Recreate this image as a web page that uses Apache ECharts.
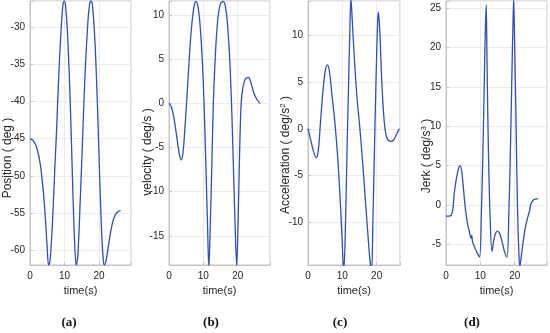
<!DOCTYPE html>
<html><head><meta charset="utf-8">
<script src="https://cdn.jsdelivr.net/npm/echarts@6/dist/echarts.min.js"></script>
<style>html,body{margin:0;padding:0;background:#fff}#c{width:550px;height:333px}</style>
</head><body><div id="c"></div>
<script>
// (a) Position (deg)
const positionTime = [0,1,2,3,4,4.5,5,5.4,5.8,6.5,7.2,7.7,8.3,9,9.5,9.9,10.4,11,11.7,12.3,12.9,13.4,13.9,14.6,15.3,16,16.8,17.3,17.7,18.2,18.9,19.6,20.2,20.8,21.3,21.6,22.1,22.8,23.6,24.4,25.3,26.3];
const positionValues = [-45,-45.3,-46.3,-48.5,-52.8,-56,-59.8,-62,-61.5,-56.5,-49,-44,-37,-30.5,-27.3,-26.5,-27.5,-32,-40.5,-50,-58.5,-62,-60.5,-53,-44.5,-36,-29.3,-26.9,-26.5,-27.4,-32.5,-41,-50,-57.8,-61.5,-62,-61.3,-59.3,-57,-55.6,-54.9,-54.7];
// (b) velocity (deg/s)
const velocityTime = [0,0.7,1.5,2.3,3,3.6,4.1,4.6,5.1,5.6,6.1,6.7,7.3,7.8,8.5,9.1,9.7,10.2,10.7,11.2,11.6,12,12.5,12.9,13.5,14.2,15,15.8,16.5,17.1,17.7,18.2,18.7,19.2,19.7,20.1,20.5,21,21.6,22.3,23.1,23.8,24.6,25.5,26.5];
const velocityValues = [0,-0.4,-1.8,-3.9,-5.7,-6.4,-5.5,-3,0,3.2,6.3,9.2,11,11.55,10.8,8.6,4.8,0,-6.5,-13.5,-18.6,-14,-6.5,0,5.5,9.5,11.3,11.55,10.8,8.6,4.8,0,-6.5,-13.2,-18.4,-13.5,-6.5,0,2,2.8,2.95,2.4,1.3,0.5,0];
// (c) Acceleration (deg/s^2)
const accelTime = [0,0.8,1.6,2.4,3,3.6,4.3,5,5.6,6.2,7,7.8,8.6,9.3,9.9,10.4,10.8,11.3,11.8,12.2,12.5,12.9,13.5,14.3,15,15.8,16.7,17.5,18,18.5,18.9,19.4,19.9,20.3,20.5,20.9,21.5,22.2,22.9,23.7,24.4,25.1,25.9,26.6];
const accelValues = [0,-1.2,-2.4,-3.1,-2.3,0.5,3.8,6.1,6.8,6.2,3.5,0.8,-2.8,-7,-11.5,-15.2,-12,-3.5,4.5,10.5,13.9,11.5,7.5,3.2,0.5,-3,-7.5,-11.5,-13.8,-15.2,-10,-1.5,6.5,11.5,12.4,10.5,5,0.8,-0.9,-1.3,-1.35,-1.1,-0.5,0];
// (d) Jerk (deg/s^3)
const jerkTime = [0,0.8,1.5,2,2.4,3,3.6,4.1,4.6,5.1,5.6,6.2,6.8,7.3,7.5,7.7,8.3,9,9.75,10.3,10.8,11.2,11.5,11.7,11.95,12.3,12.8,13.4,13.9,14.5,15.1,15.7,16.4,17.1,17.75,18.3,18.8,19.2,19.5,19.7,20,20.4,20.8,21.2,21.5,21.9,22.5,23.2,24,24.4,24.6,25,25.6,26.3,26.8];
const jerkValues = [-1.4,-1.4,-1.3,-0.5,1.5,3.3,4.6,5,4.2,2,-0.3,-2.2,-3.4,-4.2,-3.8,-4.6,-5.3,-6,-6.6,-1,8,17,23,25.4,18,8,-1,-5.9,-4.5,-3.5,-3.3,-3.7,-4.8,-6,-6.6,-1,8,17,23,26.2,20,10,0,-6,-7.8,-6.5,-4.5,-2.6,-1.2,-0.6,0,0.4,0.7,0.8,0.8];

const yNames = ['Position ( deg )','velocity ( deg/s )','Acceleration ( deg/s{sup|2} )','Jerk ( deg/s{sup|3} )'];
const captions = ['(a)','(b)','(c)','(d)'];
const xTitle = 'time(s)';

const panels = [
  {t: positionTime, v: positionValues, left: 30, width: 101, xMax: 29.3, yMin: -62, yMax: -26.5, nameX: 8, nameY: 158, capX: 69},
  {t: velocityTime, v: velocityValues, left: 169, width: 101, xMax: 29.4, yMin: -18.3, yMax: 11.6, nameX: 148, nameY: 152, capX: 211},
  {t: accelTime, v: accelValues, left: 308, width: 92, xMax: 26.8, yMin: -14.5, yMax: 13.6, nameX: 286, nameY: 155, capX: 340},
  {t: jerkTime, v: jerkValues, left: 446, width: 101, xMax: 29.4, yMin: -7.6, yMax: 25.9, nameX: 427, nameY: 156, capX: 472}
];

const txt = '#262626', frame = '#c4c4c4', gridc = '#ececec';
const option = {
  animation: false,
  backgroundColor: '#fff',
  grid: [], xAxis: [], yAxis: [], series: [], graphic: []
};
panels.forEach((p, i) => {
  option.grid.push({left: p.left, top: 1, width: p.width, height: 264, show: true, borderColor: frame, borderWidth: 1, backgroundColor: 'transparent'});
  option.xAxis.push({
    type: 'value', gridIndex: i, min: 0, max: p.xMax, splitNumber: 3,
    name: xTitle, nameLocation: 'middle', nameGap: 18,
    nameTextStyle: {color: txt, fontSize: 11, fontFamily: 'Liberation Sans'},
    axisLine: {onZero: false, lineStyle: {color: frame}},
    axisTick: {inside: true, length: 3, lineStyle: {color: frame}},
    axisLabel: {color: txt, fontSize: 10, fontFamily: 'Liberation Sans', margin: 6,
      formatter: v => (Math.abs(v % 10) < 1e-9 ? String(v) : '')},
    splitLine: {show: true, lineStyle: {color: gridc, width: 1}}
  });
  option.yAxis.push({
    type: 'value', gridIndex: i, min: p.yMin, max: p.yMax, splitNumber: 7,
    axisLine: {show: true, lineStyle: {color: frame}},
    axisTick: {inside: true, length: 3, lineStyle: {color: frame}},
    axisLabel: {color: txt, fontSize: 10, fontFamily: 'Liberation Sans', margin: 5,
      formatter: v => (Math.abs(v % 5) < 1e-9 ? String(v) : '')},
    splitLine: {show: true, lineStyle: {color: gridc, width: 1}}
  });
  option.series.push({
    type: 'line', xAxisIndex: i, yAxisIndex: i, showSymbol: false, smooth: 0.35,
    clip: true,
    lineStyle: {color: '#3050b4', width: 1.3},
    data: p.t.map((t, k) => [t, p.v[k]])
  });
  option.graphic.push({
    type: 'text', x: p.nameX, y: p.nameY, rotation: Math.PI / 2,
    style: {text: yNames[i], fill: txt, font: '12px "Liberation Sans"', align: 'center', verticalAlign: 'middle',
      rich: {sup: {fontSize: 8, fill: txt, fontFamily: 'Liberation Sans', verticalAlign: 'top', padding: [0, 0, 6, 0]}}}
  });
  option.graphic.push({
    type: 'text', x: p.capX, y: 323,
    style: {text: captions[i], fill: '#111', font: 'bold 13px "Liberation Serif"', align: 'center', verticalAlign: 'middle'}
  });
});
const chart = echarts.init(document.getElementById('c'), null, {renderer: 'canvas'});
chart.setOption(option);
</script>
</body></html>
